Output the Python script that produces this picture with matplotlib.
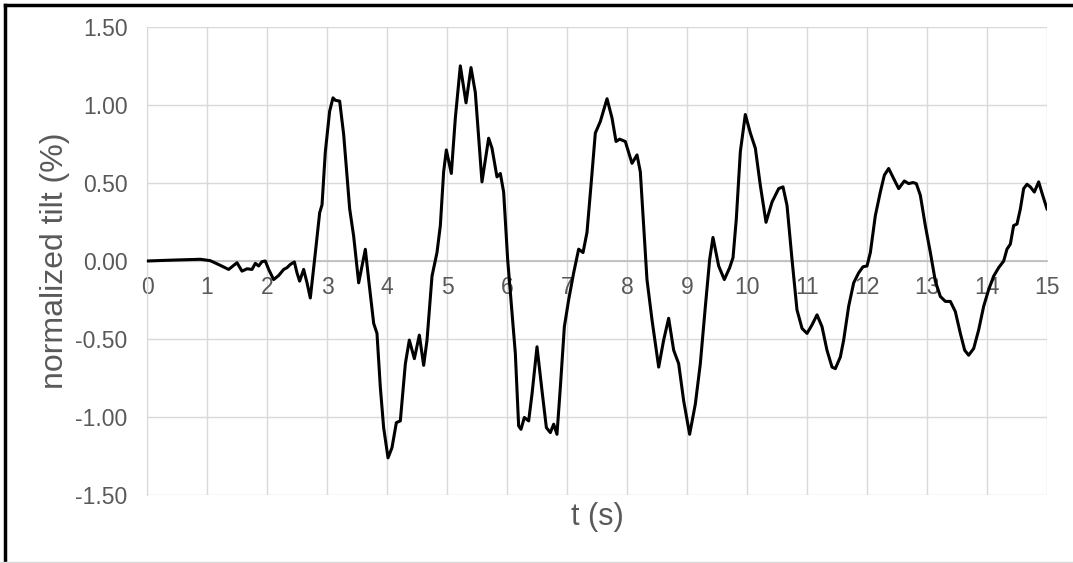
import matplotlib.pyplot as plt
import numpy as np

plt.rcParams['font.family'] = ['Liberation Sans', 'DejaVu Sans']

# Tilt record: time (s) and normalized tilt (%)
t = [0.0, 0.444, 0.889, 1.056, 1.222, 1.361, 1.5, 1.583, 1.667, 1.75, 1.806, 1.861,
     1.917, 1.972, 2.028, 2.111, 2.194, 2.278, 2.333, 2.389, 2.456, 2.5, 2.544, 2.611,
     2.667, 2.722, 2.806, 2.878, 2.917, 2.972, 3.044, 3.1, 3.139, 3.211, 3.278, 3.378,
     3.444, 3.528, 3.639, 3.694, 3.778, 3.833, 3.889, 3.944, 4.017, 4.083, 4.156, 4.222,
     4.306, 4.372, 4.456, 4.539, 4.611, 4.667, 4.75, 4.833, 4.889, 4.944, 4.989, 5.072,
     5.139, 5.222, 5.317, 5.4, 5.472, 5.583, 5.694, 5.75, 5.833, 5.889, 5.944, 6.011,
     6.083, 6.139, 6.194, 6.233, 6.289, 6.361, 6.417, 6.5, 6.583, 6.656, 6.722, 6.778,
     6.833, 6.889, 6.956, 7.028, 7.111, 7.194, 7.267, 7.333, 7.4, 7.472, 7.556, 7.667,
     7.75, 7.817, 7.878, 7.972, 8.083, 8.167, 8.222, 8.278, 8.333, 8.417, 8.528, 8.611,
     8.694, 8.778, 8.861, 8.944, 9.044, 9.139, 9.222, 9.306, 9.378, 9.433, 9.528, 9.622,
     9.711, 9.767, 9.822, 9.889, 9.972, 10.056, 10.139, 10.222, 10.317, 10.417, 10.528,
     10.6, 10.667, 10.75, 10.833, 10.917, 11.0, 11.083, 11.167, 11.25, 11.333, 11.417,
     11.472, 11.556, 11.611, 11.694, 11.778, 11.861, 11.933, 12.0, 12.056, 12.139,
     12.222, 12.289, 12.361, 12.444, 12.528, 12.622, 12.694, 12.767, 12.822, 12.889,
     12.972, 13.056, 13.139, 13.222, 13.306, 13.389, 13.472, 13.556, 13.628, 13.694,
     13.778, 13.861, 13.944, 14.028, 14.111, 14.194, 14.278, 14.333, 14.389, 14.444,
     14.5, 14.556, 14.611, 14.667, 14.722, 14.789, 14.861, 14.928, 15.0]
tilt = [0.0, 0.006, 0.011, 0.002, -0.028, -0.054, -0.011, -0.065, -0.05, -0.054, -0.015,
        -0.032, -0.004, 0.0, -0.054, -0.119, -0.093, -0.054, -0.043, -0.022, -0.006,
        -0.076, -0.129, -0.054, -0.14, -0.237, 0.054, 0.31, 0.36, 0.70, 0.96, 1.046,
        1.03, 1.025, 0.81, 0.334, 0.16, -0.14, 0.075, -0.119, -0.40, -0.464, -0.81,
        -1.068, -1.262, -1.197, -1.036, -1.025, -0.658, -0.507, -0.626, -0.475, -0.669,
        -0.507, -0.097, 0.054, 0.227, 0.572, 0.712, 0.561, 0.917, 1.251, 1.014, 1.24,
        1.08, 0.507, 0.787, 0.723, 0.539, 0.561, 0.442, 0.01, -0.334, -0.593, -1.057,
        -1.079, -1.003, -1.025, -0.852, -0.55, -0.83, -1.068, -1.1, -1.046, -1.111,
        -0.81, -0.421, -0.248, -0.076, 0.076, 0.054, 0.183, 0.485, 0.82, 0.895, 1.04,
        0.917, 0.766, 0.781, 0.766, 0.626, 0.68, 0.572, 0.227, -0.119, -0.378, -0.68,
        -0.507, -0.367, -0.572, -0.658, -0.895, -1.111, -0.917, -0.658, -0.291, 0.011,
        0.151, -0.032, -0.119, -0.043, 0.022, 0.27, 0.701, 0.939, 0.82, 0.723, 0.485,
        0.248, 0.378, 0.464, 0.475, 0.356, 0.011, -0.313, -0.432, -0.464, -0.41,
        -0.345, -0.421, -0.572, -0.68, -0.69, -0.615, -0.507, -0.291, -0.14, -0.076,
        -0.037, -0.032, 0.054, 0.291, 0.442, 0.55, 0.593, 0.529, 0.464, 0.513, 0.496,
        0.503, 0.496, 0.421, 0.227, 0.054, -0.129, -0.227, -0.259, -0.259, -0.324,
        -0.464, -0.572, -0.604, -0.561, -0.442, -0.291, -0.183, -0.097, -0.043, 0.0,
        0.076, 0.108, 0.227, 0.237, 0.334, 0.464, 0.492, 0.475, 0.442, 0.507, 0.421,
        0.334]

xticks = np.arange(0, 16, 1)
yticks = np.arange(-1.5, 1.51, 0.5)

fig = plt.figure(figsize=(10.73, 5.63), dpi=100)
ax = fig.add_axes([147 / 1073, 1 - 495 / 563, 900 / 1073, 468 / 563])

ax.plot(t, tilt, color='black', lw=2.2, solid_joinstyle='round', zorder=3)

ax.set_xlim(0, 15)
ax.set_ylim(-1.5, 1.5)
ax.set_xticks(xticks)
ax.set_yticks(yticks)
ax.set_yticklabels([f'{v:.2f}' for v in yticks])
ax.grid(True, color='#d9d9d9', lw=1.0)
ax.set_axisbelow(True)

# x axis crosses at zero
for side in ['top', 'right']:
    ax.spines[side].set_visible(False)
ax.spines['bottom'].set_position(('data', 0))
ax.spines['bottom'].set_color('#bfbfbf')
ax.spines['bottom'].set_linewidth(1.3)
ax.spines['left'].set_color('#d9d9d9')
ax.tick_params(length=0, labelsize=16.5, labelcolor='#595959')
ax.tick_params(axis='x', pad=11)
ax.tick_params(axis='y', pad=14)

ax.set_xlabel('t (s)', fontsize=22, color='#595959')
ax.xaxis.set_label_coords(0.5, -0.016)
ax.xaxis.label.set_va('top')
ax.set_ylabel('normalized tilt (%)', fontsize=23, color='#595959')
ax.yaxis.set_label_coords(-0.102, 0.5)
ax.yaxis.label.set_va('center')

# frame lines along the top and left edges
fig.add_artist(plt.Line2D([5 / 1073, 5 / 1073], [0, 1 - 5 / 563], color='black', lw=2.5))
fig.add_artist(plt.Line2D([5 / 1073, 1], [1 - 5 / 563, 1 - 5 / 563], color='black', lw=2.5))
fig.add_artist(plt.Line2D([0, 1], [1.5 / 563, 1.5 / 563], color='#d9d9d9', lw=1))

fig.savefig('out.png', dpi=100)
